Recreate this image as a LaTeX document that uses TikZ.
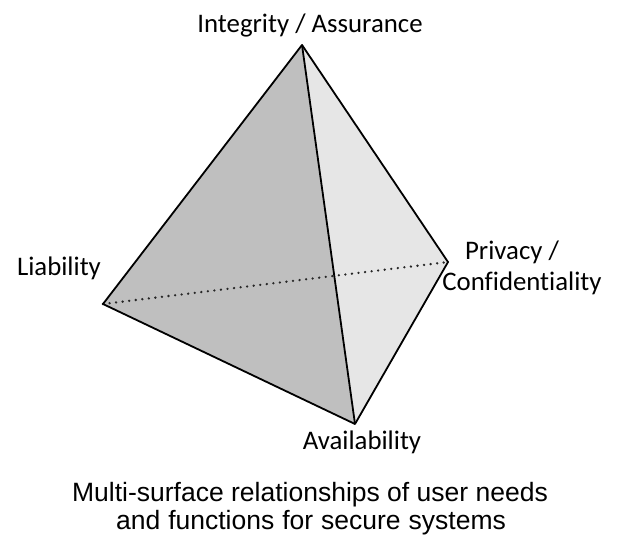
\documentclass[tikz,border=0pt]{standalone}
\usepackage{fontspec}
\setmainfont[RawFeature={-liga;-dlig}]{Carlito}
\newfontfamily\capfont{Liberation Sans}
\begin{document}
\begin{tikzpicture}[x=1pt,y=-1pt,
  lbl/.style={font=\fontsize{26.8}{32}\selectfont, inner sep=0pt},
  captext/.style={font=\capfont\fontsize{26.5}{30}\selectfont, inner sep=0pt, align=center},
  edgeline/.style={draw=black, line width=1.8pt, line join=round}]
\useasboundingbox (0,0) rectangle (620,551);
\coordinate (T) at (302,45);
\coordinate (L) at (103,304);
\coordinate (R) at (448,262);
\coordinate (B) at (355,424);
\fill[fill={rgb,255:red,191;green,191;blue,191}] (T) -- (L) -- (B) -- cycle;
\fill[fill={rgb,255:red,230;green,230;blue,230}] (T) -- (B) -- (R) -- cycle;
\draw[black!85, line width=2.6pt, line cap=round, dash pattern=on 0pt off 6.6pt] (L) -- (R);
\draw[edgeline] (T) -- (L) -- (B) -- (R) -- cycle;
\draw[edgeline] (T) -- (B);
\node[lbl] (ti) at (310,25) {Integrity / Assurance};
\node[lbl] (tl) at (59,268) {Liability};
\node[lbl] (tp) at (512,252) {Privacy /};
\node[lbl] (tc) at (522,283) {Confidentiality};
\node[lbl] (ta) at (362,442) {Availability};
\node[captext] (c1) at (310,495) {Multi-surface relationships of user needs};
\node[captext] (c2) at (311,523) {\spaceskip=0.3em and functions for secure systems};
\end{tikzpicture}
\end{document}
